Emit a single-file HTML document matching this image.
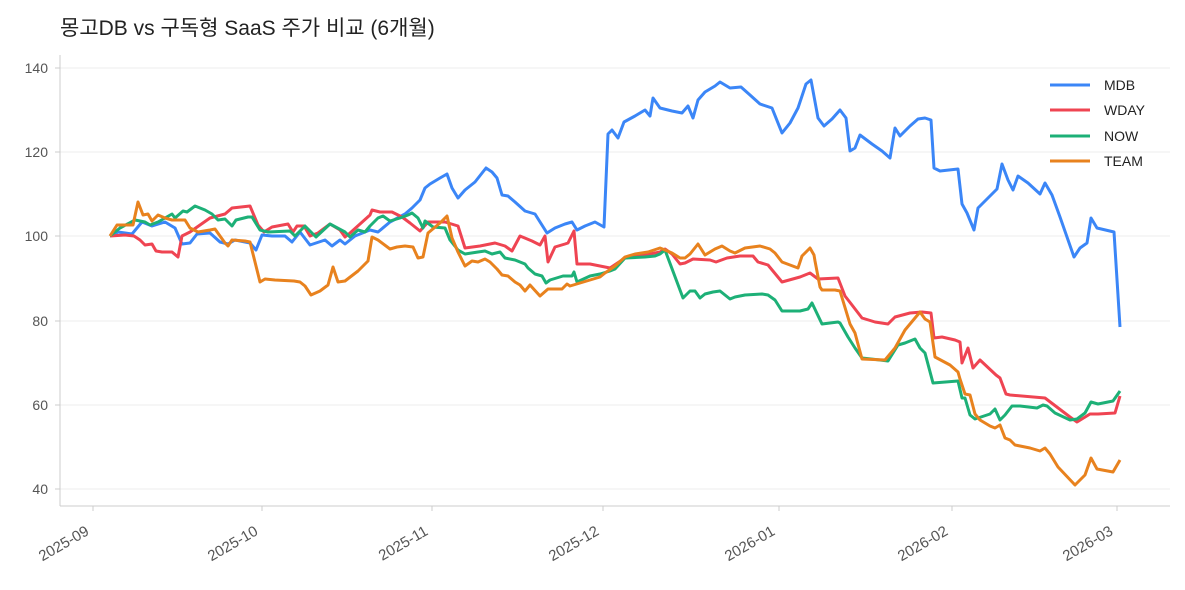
<!DOCTYPE html>
<html><head><meta charset="utf-8"><style>
body{margin:0;background:#fff;}
svg text{font-family:"Liberation Sans","Noto Sans CJK KR",sans-serif;}
</style></head><body>
<svg width="1185" height="585" viewBox="0 0 1185 585" xmlns="http://www.w3.org/2000/svg">
<rect width="1185" height="585" fill="#fff"/>
<text x="60" y="35" font-size="21" fill="#222">몽고DB vs 구독형 SaaS 주가 비교 (6개월)</text>
<g stroke="#eeeeee" stroke-width="1">
<line x1="60" x2="1170" y1="68" y2="68"/><line x1="60" x2="1170" y1="152" y2="152"/>
<line x1="60" x2="1170" y1="236" y2="236"/><line x1="60" x2="1170" y1="321" y2="321"/>
<line x1="60" x2="1170" y1="405" y2="405"/><line x1="60" x2="1170" y1="489" y2="489"/>
</g>
<g stroke="#cccccc" stroke-width="1">
<line x1="60" x2="60" y1="55" y2="506"/><line x1="60" x2="1170" y1="506" y2="506"/>
<line x1="55" x2="60" y1="68" y2="68"/><line x1="55" x2="60" y1="152" y2="152"/><line x1="55" x2="60" y1="236" y2="236"/><line x1="55" x2="60" y1="321" y2="321"/><line x1="55" x2="60" y1="405" y2="405"/><line x1="55" x2="60" y1="489" y2="489"/>
<line x1="93" x2="93" y1="506" y2="511"/><line x1="262" x2="262" y1="506" y2="511"/><line x1="432" x2="432" y1="506" y2="511"/><line x1="603" x2="603" y1="506" y2="511"/><line x1="779" x2="779" y1="506" y2="511"/><line x1="952" x2="952" y1="506" y2="511"/><line x1="1117" x2="1117" y1="506" y2="511"/>
</g>
<g font-size="14" fill="#555" text-anchor="end">
<text x="48" y="73">140</text><text x="48" y="157">120</text><text x="48" y="241">100</text><text x="48" y="326">80</text><text x="48" y="410">60</text><text x="48" y="494">40</text>
</g>
<g font-size="15" fill="#555" text-anchor="end">
<text transform="translate(90,534) rotate(-30)">2025-09</text>
<text transform="translate(259,534) rotate(-30)">2025-10</text>
<text transform="translate(429,534) rotate(-30)">2025-11</text>
<text transform="translate(600,534) rotate(-30)">2025-12</text>
<text transform="translate(776,534) rotate(-30)">2026-01</text>
<text transform="translate(949,534) rotate(-30)">2026-02</text>
<text transform="translate(1114,534) rotate(-30)">2026-03</text>
</g>
<g fill="none" stroke-width="3" stroke-linejoin="round">
<polyline stroke="#3b86f7" points="110,236 118,232 132,234 142,222 152,226 165,222 175,228 182,244 190,243 197,234 210,233 220,242 228,244 235,240 250,243 256,250 262,235 272,236 285,236 292,242 300,232 310,245 325,240 332,246 340,240 345,244 355,236 370,230 378,232 390,222 405,214 412,208 420,200 425,188 430,184 440,178 447,174 452,188 458,198 465,190 475,182 486,168 492,172 497,178 502,195 508,196 515,202 525,211 535,214 547,233 555,228 565,224 572,222 577,230 585,226 595,222 604,227 608,134 612,130 618,138 624,122 635,116 645,110 650,116 653,98 660,108 672,111 682,113 688,106 693,118 698,100 705,92 715,86 720,82 730,88 741,87 750,95 760,104 772,108 782,133 790,123 798,108 806,84 811,80 818,118 824,126 832,119 840,110 846,118 850,151 855,148 860,135 872,144 882,151 890,158 895,128 900,136 910,126 918,119 925,118 931,120 934,168 940,171 958,169 962,204 967,213 974,230 978,208 990,196 997,189 1002,164 1008,180 1013,190 1018,176 1028,183 1040,194 1045,183 1052,195 1060,217 1074,257 1080,248 1087,243 1091,218 1097,228 1114,232 1120,327"/>
<polyline stroke="#ef4452" points="110,236 125,235 134,236 140,240 145,245 152,244 156,251 162,252 172,252 178,257 182,236 190,232 200,225 210,218 225,214 232,208 250,206 258,225 264,232 272,227 288,224 293,232 297,226 304,226 310,236 318,233 330,224 340,230 345,237 350,233 360,224 370,215 372,210 380,212 392,212 402,217 410,223 420,231 428,222 445,222 458,226 465,248 480,246 495,243 505,246 512,251 520,236 532,241 540,245 545,236 548,262 555,247 565,244 568,243 574,231 577,264 590,264 610,268 625,258 640,256 660,252 665,249 672,254 680,264 685,263 693,259 710,260 716,262 727,258 740,256 753,256 758,262 768,265 782,282 800,277 810,273 818,279 838,278 845,296 852,305 862,318 875,322 888,324 895,317 910,313 922,312 931,313 934,338 942,337 955,340 960,342 962,363 968,348 973,368 980,360 996,375 1000,378 1006,394 1010,395 1045,398 1070,417 1077,422 1090,414 1098,414 1115,413 1120,396"/>
<polyline stroke="#1db077" points="110,236 120,228 135,220 145,222 150,225 158,222 165,218 172,214 175,218 183,211 187,212 195,206 205,210 212,214 218,220 225,219 232,226 236,220 248,217 252,217 260,230 268,232 290,231 295,236 305,226 316,237 330,224 345,232 350,237 358,230 365,232 370,226 378,218 383,216 390,221 400,218 408,215 412,213 418,218 423,228 425,221 433,227 445,228 450,240 458,250 465,254 478,252 485,251 492,254 500,252 505,258 515,260 525,264 528,268 535,274 542,276 546,283 550,280 563,276 572,276 574,272 577,282 590,276 600,274 610,271 615,269 625,258 645,257 655,256 660,254 665,250 683,298 690,291 695,291 700,298 705,294 713,292 720,291 730,299 735,297 745,295 762,294 768,295 775,300 782,311 800,311 808,309 812,303 822,324 838,322 840,323 848,337 855,348 862,358 880,360 888,361 898,345 905,343 915,339 920,348 925,353 933,383 958,381 962,398 965,398 970,415 975,419 990,414 995,409 1000,420 1005,415 1012,406 1020,406 1037,408 1043,405 1047,406 1055,413 1070,420 1077,419 1085,413 1091,402 1098,404 1113,401 1120,391"/>
<polyline stroke="#e8821e" points="110,236 117,225 133,225 138,202 143,215 148,214 152,221 158,215 165,218 172,220 185,220 190,228 198,232 210,230 215,229 225,243 228,246 232,240 245,241 250,242 260,282 265,279 275,280 294,281 300,282 305,286 311,295 320,291 328,285 333,267 338,282 345,281 358,271 368,261 372,237 378,240 390,249 397,247 405,246 413,247 418,258 423,257 428,233 440,223 447,216 452,238 458,252 465,266 472,261 478,262 485,259 490,262 497,269 502,275 508,276 515,282 520,285 525,291 530,285 540,296 548,289 562,289 567,284 570,286 600,277 605,273 615,266 625,257 635,254 648,252 660,248 665,250 672,253 680,258 685,258 690,254 698,244 705,255 715,249 722,246 730,251 735,253 745,248 760,246 770,249 775,253 782,262 798,268 802,256 810,248 814,255 815,261 820,287 822,290 835,290 840,291 850,324 855,333 862,359 885,360 895,348 905,330 920,312 925,319 930,322 935,357 950,365 958,372 960,379 965,394 970,395 975,414 980,420 990,426 995,428 1000,425 1005,438 1010,440 1015,445 1030,448 1040,451 1045,448 1050,454 1058,467 1075,485 1085,475 1091,458 1097,469 1113,472 1120,460"/>
</g>
<g stroke-width="3">
<line x1="1050" x2="1090" y1="85" y2="85" stroke="#3b86f7"/>
<line x1="1050" x2="1090" y1="110" y2="110" stroke="#ef4452"/>
<line x1="1050" x2="1090" y1="136" y2="136" stroke="#1db077"/>
<line x1="1050" x2="1090" y1="161" y2="161" stroke="#e8821e"/>
</g>
<g font-size="14" fill="#222">
<text x="1104" y="90">MDB</text><text x="1104" y="115">WDAY</text><text x="1104" y="141">NOW</text><text x="1104" y="166">TEAM</text>
</g>
</svg>
</body></html>
